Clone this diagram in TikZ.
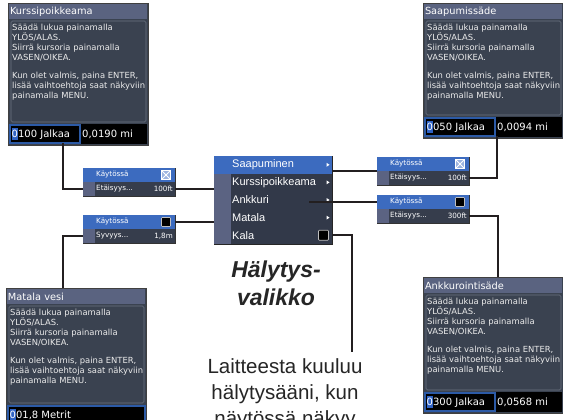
\documentclass[tikz,border=0pt]{standalone}
\usepackage{fontspec}
\setmainfont{Liberation Sans}
\newfontfamily\lcdfont{DejaVu Sans}
\usetikzlibrary{positioning,calc}
\definecolor{dlgbg}{HTML}{3A4250}
\definecolor{dlgtitle}{HTML}{5A6380}
\definecolor{dlgbody}{HTML}{3A4250}
\definecolor{dlgline}{HTML}{6C7482}
\definecolor{selblue}{HTML}{3C6BBF}
\definecolor{curblue}{HTML}{2F62C4}
\definecolor{valblue}{HTML}{2C5AA6}
\definecolor{menubg}{HTML}{323949}
\definecolor{menustripe}{HTML}{5B6382}
\definecolor{kbotbg}{HTML}{363D4C}
\definecolor{chkblue}{HTML}{9DB4E0}
\definecolor{connclr}{HTML}{231F20}
\tikzset{
  dlg/.style     = {rectangle, anchor=north west, fill=dlgbg, draw=black!75,
                    line width=0.6pt, minimum width=140pt, inner sep=0pt, outer sep=0pt},
  dlgttl/.style  = {anchor=north west, fill=dlgtitle, minimum height=15pt,
                    text width=136pt, align=left, inner sep=1pt, outer sep=0pt,
                    text=white, font=\lcdfont\fontsize{9.8}{11}\selectfont},
  dlgbody/.style = {anchor=north west, fill=dlgbody, draw=dlgline, line width=0.6pt,
                    rounded corners=1.5pt, minimum width=135pt, inner sep=0pt, outer sep=0pt},
  dlgtxt/.style  = {anchor=north west, align=left, inner sep=0pt, text=white!92!black,
                    font=\lcdfont\fontsize{8.4}{10}\selectfont},
  dlgrow/.style  = {anchor=south west, fill=black, minimum width=138pt, minimum height=20pt,
                    inner sep=0pt, outer sep=0pt},
  dlgval/.style  = {anchor=west, draw=valblue, line width=1.1pt, minimum height=18pt,
                    inner sep=0pt, outer sep=0pt},
  dlgnum/.style  = {anchor=west, inner sep=1pt, text=white,
                    font=\lcdfont\fontsize{10}{12}\selectfont},
  kbox/.style    = {rectangle, anchor=north west, draw=black!80, line width=0.6pt,
                    minimum width=92pt, minimum height=28pt, inner sep=0pt, outer sep=0pt},
  ktop/.style    = {anchor=north west, fill=selblue, minimum width=92pt, minimum height=14pt,
                    inner sep=0pt, outer sep=0pt},
  kbot/.style    = {anchor=south west, fill=kbotbg, minimum width=92pt, minimum height=14pt,
                    inner sep=0pt, outer sep=0pt},
  kstripe/.style = {anchor=west, fill=menustripe, minimum width=12pt, minimum height=14pt,
                    inner sep=0pt, outer sep=0pt},
  ktxt/.style    = {anchor=west, inner sep=0pt, text=white,
                    font=\lcdfont\fontsize{7.2}{8}\selectfont},
  chkon/.style   = {fill=chkblue, draw=white, line width=0.5pt, minimum size=9pt, inner sep=0pt,
                    path picture={\draw[white, line width=0.8pt]
                      (path picture bounding box.north west) -- (path picture bounding box.south east)
                      (path picture bounding box.south west) -- (path picture bounding box.north east);}},
  chkoff/.style  = {fill=black, draw=white!75!black, line width=0.6pt, minimum size=9pt,
                    inner sep=0pt, rounded corners=0.8pt},
  menubox/.style = {rectangle, anchor=north west, fill=menubg, draw=black!85, line width=0.8pt,
                    minimum width=118pt, minimum height=88pt, inner sep=0pt, outer sep=0pt},
  mitem/.style   = {anchor=west, inner sep=0pt, text=white,
                    font=\fontsize{11}{13}\selectfont},
  conn/.style    = {draw=connclr, line width=1.8pt},
}
\newcommand{\cursor}[1]{{\setlength{\fboxsep}{0pt}\colorbox{curblue}{\rule[-3pt]{0pt}{12.5pt}#1}}}
\newcommand{\helptext}{Säädä lukua painamalla\\YLÖS/ALAS.\\Siirrä kursoria painamalla\\
  VASEN/OIKEA.\\[8pt]Kun olet valmis, paina ENTER,\\lisää vaihtoehtoja saat näkyviin\\painamalla MENU.}
% name, x, y, height, title, value, value width, second value
\newcommand{\alarmdlg}[8]{%
  \node[dlg, minimum height=#4pt] (#1) at (#2,#3) {};
  \node[dlgttl] (#1ttl) at ([shift={(1pt,-1pt)}]#1.north west) {#5};
  \node[dlgrow] (#1row) at ([shift={(1pt,1pt)}]#1.south west) {};
  \node[dlgbody, minimum height=#4pt-41pt] (#1body) at ([shift={(2pt,-2pt)}]#1ttl.south west) {};
  \node[dlgtxt] (#1txt) at ([shift={(1pt,-3pt)}]#1body.north west) {\helptext};
  \node[dlgval, minimum width=#7pt] (#1val) at ([xshift=1pt]#1row.west) {};
  \node[dlgnum] (#1num) at ([xshift=0.5pt]#1val.west) {#6};
  \node[dlgnum] (#1sec) at ([xshift=1pt]#1val.east) {#8};
}
% name, x, y, checkbox, label, value
\newcommand{\onbox}[6]{%
  \node[kbox] (#1) at (#2,#3) {};
  \node[ktop] (#1top) at (#1.north west) {};
  \node[kbot] (#1bot) at (#1.south west) {};
  \node[kstripe] at (#1bot.west) {};
  \node[ktxt] at ([xshift=13pt]#1top.west) {Käytössä};
  \node[ktxt] at ([xshift=13pt]#1bot.west) {#5};
  \node[ktxt, anchor=east] at ([xshift=-2pt]#1bot.east) {#6};
  \node[#4] (#1chk) at ([xshift=-9pt]#1top.east) {};
}
\begin{document}
\begin{tikzpicture}[x=1pt, y=-1pt]
  \useasboundingbox[fill=white] (0,0) rectangle (563,420);

  % settings dialogs
  \alarmdlg{tl}{8}{3}{142}{Kurssipoikkeama}{\cursor{0}100 Jalkaa}{70}{0,0190 mi}
  \alarmdlg{tr}{423}{3}{135}{Saapumissäde}{\cursor{0}050 Jalkaa}{70}{0,0094 mi}
  \alarmdlg{bl}{6}{288}{138}{Matala vesi}{\cursor{0}01,8 Metrit}{137}{}
  \alarmdlg{br}{423}{277}{136}{Ankkurointisäde}{\cursor{0}300 Jalkaa}{70}{0,0568 mi}

  % on/off boxes
  \onbox{k1}{83}{168}{chkon}{Etäisyys...}{100ft}
  \onbox{k2}{83}{215}{chkoff}{Syvyys...}{1,8m}
  \onbox{k3}{377}{157}{chkon}{Etäisyys...}{100ft}
  \onbox{k4}{377}{195}{chkoff}{Etäisyys...}{300ft}

  % alarm menu
  \node[menubox] (menu) at (214,156) {};
  \node[anchor=north west, fill=menustripe, minimum width=17pt, minimum height=70.4pt,
        inner sep=0pt] (stripe) at ([yshift=-17.6pt]menu.north west) {};
  \node[anchor=north west, fill=selblue, minimum width=118pt, minimum height=17.6pt,
        inner sep=0pt] (msel) at (menu.north west) {};
  \foreach \txt [count=\i] in {Saapuminen,Kurssipoikkeama,Ankkuri,Matala,Kala}
    \node[mitem] (m\i) at (232,147.2+17.6*\i) {\txt};
  \foreach \i in {1,...,4}
    \fill[white] (326.5,145.2+17.6*\i) -- ++(3,2) -- ++(-3,2) -- cycle;
  \node[chkoff, minimum size=10pt] (kalachk) at (323.5,235.2) {};

  \node[inner sep=0pt, anchor=north, align=center, text=black!85,
        font=\bfseries\itshape\fontsize{23}{28}\selectfont] (title) at (276,261) {Hälytys-\\valikko};
  \node[inner sep=0pt, anchor=north, align=center, text=black!85,
        font=\fontsize{20.5}{26}\selectfont] (note) at (285,358)
        {Laitteesta kuuluu\\hälytysääni, kun\\näytössä näkyy};

  % connectors
  \draw[conn] ([xshift=18pt]tlval.south) |- (k1bot.west);
  \draw[conn] (k1bot.east) -- (k1bot.east -| menu.west);
  \draw[conn] (k2top.east) -- (k2top.east -| menu.west);
  \draw[conn] (k2bot.west) -| ([xshift=57pt]bl.north west);
  \draw[conn] ([xshift=2pt]trval.south east) |- (k3bot.east);
  \draw[conn] (menu.east |- k3.west) -- (k3.west);
  \draw[conn] ([xshift=-23pt]menu.east |- k4top.west) -- (k4top.west);
  \draw[conn] (k4bot.east) -| ([xshift=75pt]br.north west);
  \draw[conn] (menu.east |- kalachk) -| ([shift={(67pt,6pt)}]note.north);
\end{tikzpicture}
\end{document}
